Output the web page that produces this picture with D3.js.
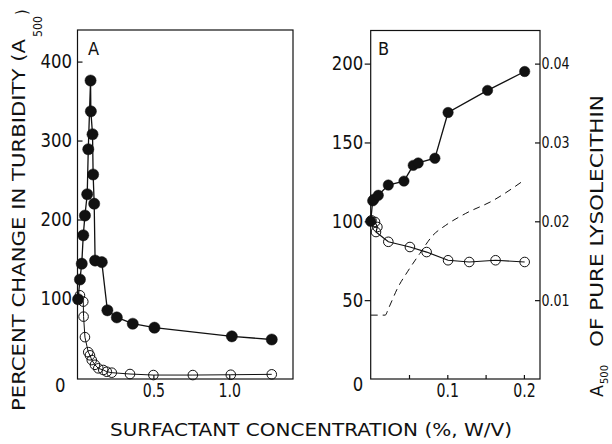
<!DOCTYPE html>
<html>
<head>
<meta charset="utf-8">
<script src="https://cdn.jsdelivr.net/npm/d3@7"></script>
<style>
  body { margin: 0; background: #fff; }
  svg text { font-family: "DejaVu Sans Condensed", "Liberation Sans Narrow", "DejaVu Sans", sans-serif; fill: #111; }
</style>
</head>
<body>
<div id="myGraph"></div>
<script>
// panel A : turbidity vs surfactant concentration, 0 - 1.3 %
var concA_filled = [0.004, 0.016, 0.028, 0.038, 0.049, 0.064, 0.071, 0.086, 0.088, 0.099, 0.103, 0.110, 0.116, 0.160, 0.197, 0.259, 0.364, 0.507, 1.017, 1.28];
var turbA_filled = [99, 124, 144, 180, 205, 232, 289, 376, 337, 308, 257, 220, 148, 146, 85, 76, 68, 63, 52, 48];
var concA_open = [0.016, 0.038, 0.040, 0.049, 0.071, 0.082, 0.094, 0.115, 0.137, 0.170, 0.193, 0.226, 0.346, 0.50, 0.76, 1.01, 1.28];
var turbA_open = [104, 96, 77, 51, 32, 28, 22, 16, 11.5, 9.4, 7.2, 6, 4.3, 3, 3, 3.4, 3.9];

// panel B : low concentration range, 0 - 0.2 %
var concB_filled = [0.0, 0.0026, 0.0043, 0.0099, 0.023, 0.0434, 0.0555, 0.062, 0.0838, 0.101, 0.1525, 0.201];
var turbB_filled = [100, 113, 114, 116.5, 123, 125.5, 135.5, 137, 140, 169, 183, 195];
var concB_open = [0.001, 0.0056, 0.0087, 0.0069, 0.023, 0.0512, 0.073, 0.101, 0.1286, 0.163, 0.201];
var turbB_open = [100.6, 99.6, 96.4, 93.2, 87, 83.7, 80.5, 75.3, 74.2, 75.3, 74.2];

// dashed : A500 of pure lysolecithin (right axis)
var concLyso = [0.0, 0.019, 0.023, 0.036, 0.048, 0.064, 0.081, 0.098, 0.124, 0.159, 0.2];
var a500Lyso = [0.0081, 0.0081, 0.0089, 0.0117, 0.0136, 0.0159, 0.0182, 0.0195, 0.021, 0.0226, 0.0252];

var ticksA_y = [0, 100, 200, 300, 400];
var ticksA_x = [0.5, 1.0];
var ticksB_y = [0, 50, 100, 150, 200];
var ticksB_x = [0.05, 0.1, 0.15, 0.2];
var ticksB_r = [0.01, 0.02, 0.03, 0.04];

var width = 612, height = 444;
var ink = "#111";

var svg = d3.select("#myGraph").append("svg")
    .attr("width", width)
    .attr("height", height);

function pts(xs, ys) {
    return xs.map(function (x, i) { return [x, ys[i]]; });
}

function frame(x, y) {
    svg.append("rect")
        .attr("x", x.range()[0]).attr("y", y.range()[1])
        .attr("width", x.range()[1] - x.range()[0])
        .attr("height", y.range()[0] - y.range()[1])
        .attr("fill", "none").attr("stroke", ink).attr("stroke-width", 1.2);
}

// narrow the digits a bit, the scan uses a condensed face
function styleAxis(g, size, digitW) {
    g.select(".domain").remove();
    g.selectAll(".tick line").attr("stroke", ink).attr("stroke-width", 1.2);
    g.selectAll("text").attr("font-size", size).attr("fill", ink).attr("font-family", null)
        .each(function () {
            var s = d3.select(this).text();
            if (!s) return;
            var n = s.replace(/\./g, "").length, dots = s.length - n;
            d3.select(this).attr("textLength", n * digitW + dots * 3.5).attr("lengthAdjust", "spacingAndGlyphs");
        });
}

function series(x, y, data, r, filled, lw) {
    var line = d3.line().x(function (d) { return x(d[0]); }).y(function (d) { return y(d[1]); });
    svg.append("path").attr("d", line(data))
        .attr("fill", "none").attr("stroke", ink).attr("stroke-width", lw);
    svg.append("g").selectAll("circle").data(data).enter().append("circle")
        .attr("cx", function (d) { return x(d[0]); })
        .attr("cy", function (d) { return y(d[1]); })
        .attr("r", r)
        .attr("fill", filled ? ink : "none")
        .attr("stroke", ink).attr("stroke-width", filled ? 0.5 : 1);
}

// rotated label piece: p = position along the text, off = shift across it
function vtext(x0, y0, p, off, size, len, str) {
    var t = svg.append("text")
        .attr("transform", "translate(" + (x0 + off) + "," + (y0 - p) + ") rotate(-90)")
        .attr("font-size", size)
        .text(str);
    if (len) t.attr("textLength", len).attr("lengthAdjust", "spacingAndGlyphs");
    return t;
}

// ---------- panel A ----------
var xA = d3.scaleLinear().domain([0, 1.42]).range([77.5, 293]);
var yA = d3.scaleLinear().domain([-2, 440]).range([379, 30]);
frame(xA, yA);

var gAy = svg.append("g").attr("transform", "translate(77.5,0)")
    .call(d3.axisLeft(yA).tickValues(ticksA_y).tickSize(-5).tickPadding(5.5).tickFormat(d3.format("d")));
styleAxis(gAy, 19, 10.5);
gAy.selectAll(".tick").filter(function (d) { return d === 0; }).select("text").attr("x", -12).attr("dy", "0.75em");
gAy.selectAll(".tick").filter(function (d) { return d === 0; }).select("line").remove();

var gAx = svg.append("g").attr("transform", "translate(0,379)")
    .call(d3.axisBottom(xA).tickValues(ticksA_x).tickSize(-4).tickPadding(5).tickFormat(d3.format(".1f")));
styleAxis(gAx, 19, 9.5);

series(xA, yA, pts(concA_open, turbA_open), 4.8, false, 1);
series(xA, yA, pts(concA_filled, turbA_filled), 5.6, true, 1.3);

svg.append("text").attr("x", 88).attr("y", 55).attr("font-size", 18).text("A");

// ---------- panel B ----------
var xB = d3.scaleLinear().domain([0, 0.221]).range([370.7, 540]);
var yB = d3.scaleLinear().domain([0, 221]).range([379, 30.5]);
var yBr = d3.scaleLinear().domain([0, 0.0442]).range([379, 30.5]);
frame(xB, yB);

var gBy = svg.append("g").attr("transform", "translate(370.7,0)")
    .call(d3.axisLeft(yB).tickValues(ticksB_y).tickSize(6).tickPadding(1.5).tickFormat(d3.format("d")));
styleAxis(gBy, 19, 10.5);
gBy.selectAll(".tick").filter(function (d) { return d === 0; }).select("text").attr("dy", "0.6em");
gBy.selectAll(".tick").filter(function (d) { return d === 0; }).select("line").remove();

var gBx = svg.append("g").attr("transform", "translate(0,379)")
    .call(d3.axisBottom(xB).tickValues(ticksB_x).tickSize(-4).tickPadding(5)
        .tickFormat(function (d) { return (Math.round(d * 100) % 10 === 0) ? d3.format(".1f")(d) : ""; }));
styleAxis(gBx, 19, 9.5);

var gBr = svg.append("g").attr("transform", "translate(540,0)")
    .call(d3.axisRight(yBr).tickValues(ticksB_r).tickSize(-5).tickPadding(1.5).tickFormat(d3.format(".2f")));
styleAxis(gBr, 16, 8.2);

var lysoLine = d3.line().curve(d3.curveMonotoneX)
    .x(function (d) { return xB(d[0]); }).y(function (d) { return yBr(d[1]); });
svg.append("path").attr("d", lysoLine(pts(concLyso, a500Lyso)))
    .attr("fill", "none").attr("stroke", ink).attr("stroke-width", 1)
    .attr("stroke-dasharray", "7,5");

series(xB, yB, pts(concB_open, turbB_open), 4.8, false, 1.2);
series(xB, yB, pts(concB_filled, turbB_filled), 5.2, true, 1.3);

svg.append("text").attr("x", 378).attr("y", 55).attr("font-size", 18).text("B");

// ---------- titles ----------
vtext(25, 411, 0, 0, 17, 372, "PERCENT CHANGE IN TURBIDITY (A");
vtext(25, 411, 374, 17, 13, 21, "500");
vtext(27, 411, 396, 0, 16, 0, ")");

vtext(603, 397, 0, 0, 17, 12, "A");
vtext(603, 397, 13, 5, 11, 19, "500");
vtext(603, 397, 50, 0, 17, 252, "OF PURE LYSOLECITHIN");

svg.append("text").attr("x", 110).attr("y", 435.5).attr("font-size", 17)
    .attr("textLength", 402).attr("lengthAdjust", "spacingAndGlyphs")
    .text("SURFACTANT CONCENTRATION (%, W/V)");
</script>
</body>
</html>
